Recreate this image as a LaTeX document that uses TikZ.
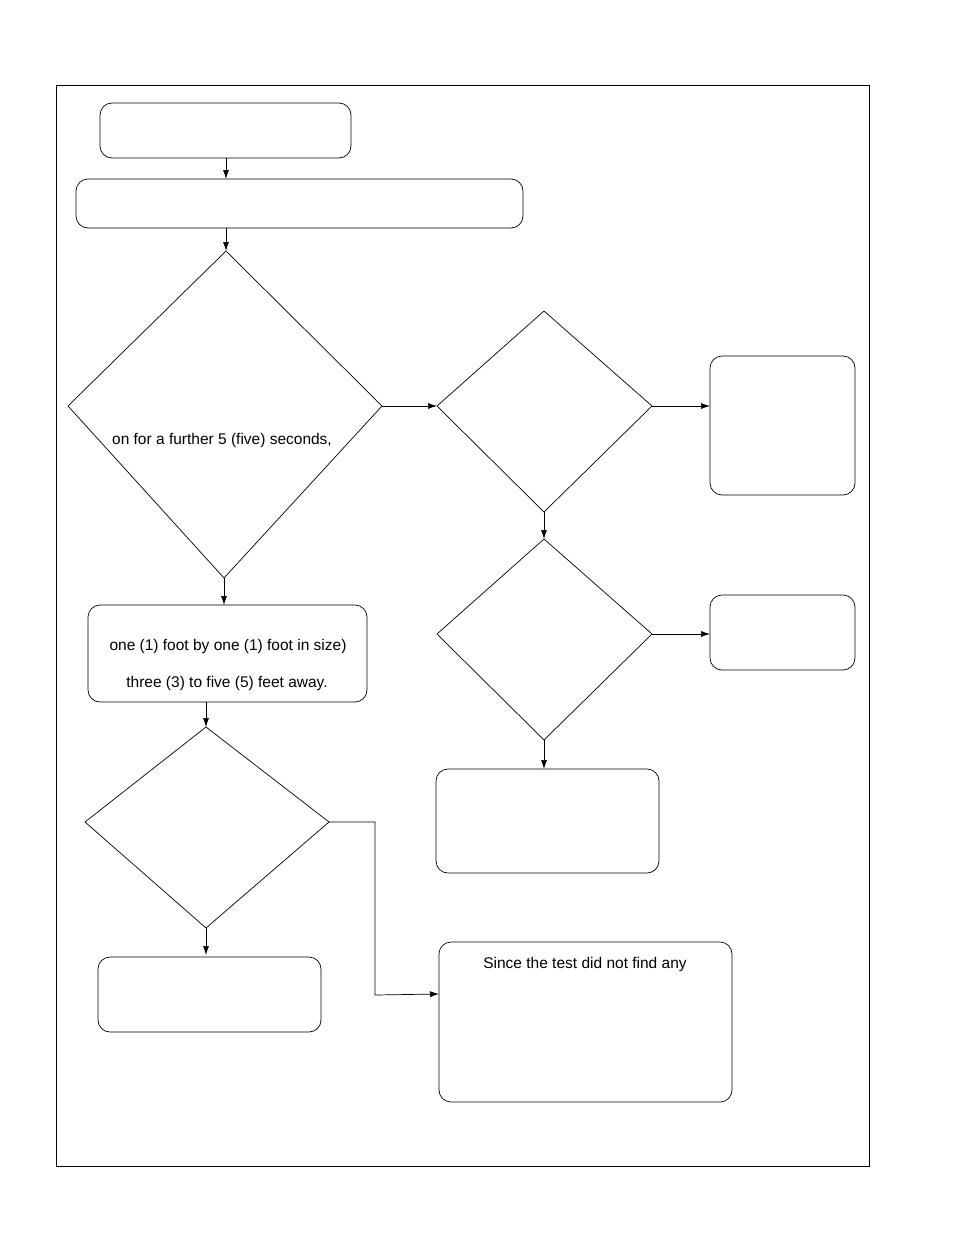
\documentclass[tikz,border=0pt]{standalone}
\usepackage{fontspec}
\setmainfont{Liberation Sans}
\usetikzlibrary{arrows.meta}
\begin{document}
\begin{tikzpicture}[x=1pt,y=-1pt,
  box/.style={draw,rounded corners=12pt,line width=0.7pt},
  dia/.style={draw,line width=0.7pt},
  arr/.style={-{Latex[length=9pt,width=6pt]},line width=0.7pt},
  lbl/.style={font=\fontsize{15.5}{18}\selectfont,inner sep=0pt}]
\useasboundingbox (0,0) rectangle (954,1235);
\draw[line width=0.7pt] (56,85) rectangle (869,1166);
\draw[box] (100,103) rectangle (351,158);
\draw[box] (76,179) rectangle (523,228);
\coordinate (b1s) at (226,158); \coordinate (b2n) at (226,179);
\coordinate (b2s) at (226,228);
% diamond 1
\coordinate (d1n) at (226,251); \coordinate (d1w) at (68,406);
\coordinate (d1e) at (382,406); \coordinate (d1s) at (224,578);
\draw[dia] (d1n)--(d1e)--(d1s)--(d1w)--cycle;
\node[lbl] (t1) at (222,440) {on for a further 5 (five) seconds,};
% diamond 2
\coordinate (d2n) at (544,311); \coordinate (d2w) at (437,406);
\coordinate (d2e) at (652,406); \coordinate (d2s) at (544,512);
\draw[dia] (d2n)--(d2e)--(d2s)--(d2w)--cycle;
\draw[box] (710,356) rectangle (855,495); \coordinate (r1w) at (710,406);
% diamond 3
\coordinate (d3n) at (544,539); \coordinate (d3w) at (437,634);
\coordinate (d3e) at (652,634); \coordinate (d3s) at (544,740);
\draw[dia] (d3n)--(d3e)--(d3s)--(d3w)--cycle;
\draw[box] (710,595) rectangle (855,670); \coordinate (r2w) at (710,634);
\draw[box] (436,769) rectangle (659,873); \coordinate (b3n) at (544,769);
% middle box
\draw[box] (88,605) rectangle (367,702);
\coordinate (mbn) at (224,605); \coordinate (mbs) at (206,702);
\node[lbl] (t2) at (228,646) {one (1) foot by one (1) foot in size)};
\node[lbl] (t3) at (227,683) {three (3) to five (5) feet away.};
% diamond 4
\coordinate (d4n) at (206,727); \coordinate (d4w) at (85,822);
\coordinate (d4e) at (329,822); \coordinate (d4s) at (206,928);
\draw[dia] (d4n)--(d4e)--(d4s)--(d4w)--cycle;
\draw[box] (98,957) rectangle (321,1032); \coordinate (b4n) at (206,955);
\draw[box] (439,942) rectangle (732,1102); \coordinate (b5w) at (439,994);
\node[lbl] (t4) at (585,964) {Since the test did not find any};
% arrows
\draw[arr] (b1s)--(b2n);
\draw[arr] (b2s)--(d1n);
\draw[arr] (d1e)--(d2w);
\draw[arr] (d2e)--(r1w);
\draw[arr] (d2s)--(d3n);
\draw[arr] (d3e)--(r2w);
\draw[arr] (d3s)--(b3n);
\draw[arr] (d1s)--(mbn);
\draw[arr] (mbs)--(d4n);
\draw[arr] (d4s)--(b4n);
\draw[arr] (d4e)--(375,822)--(375,995)--(b5w);
\end{tikzpicture}
\end{document}
